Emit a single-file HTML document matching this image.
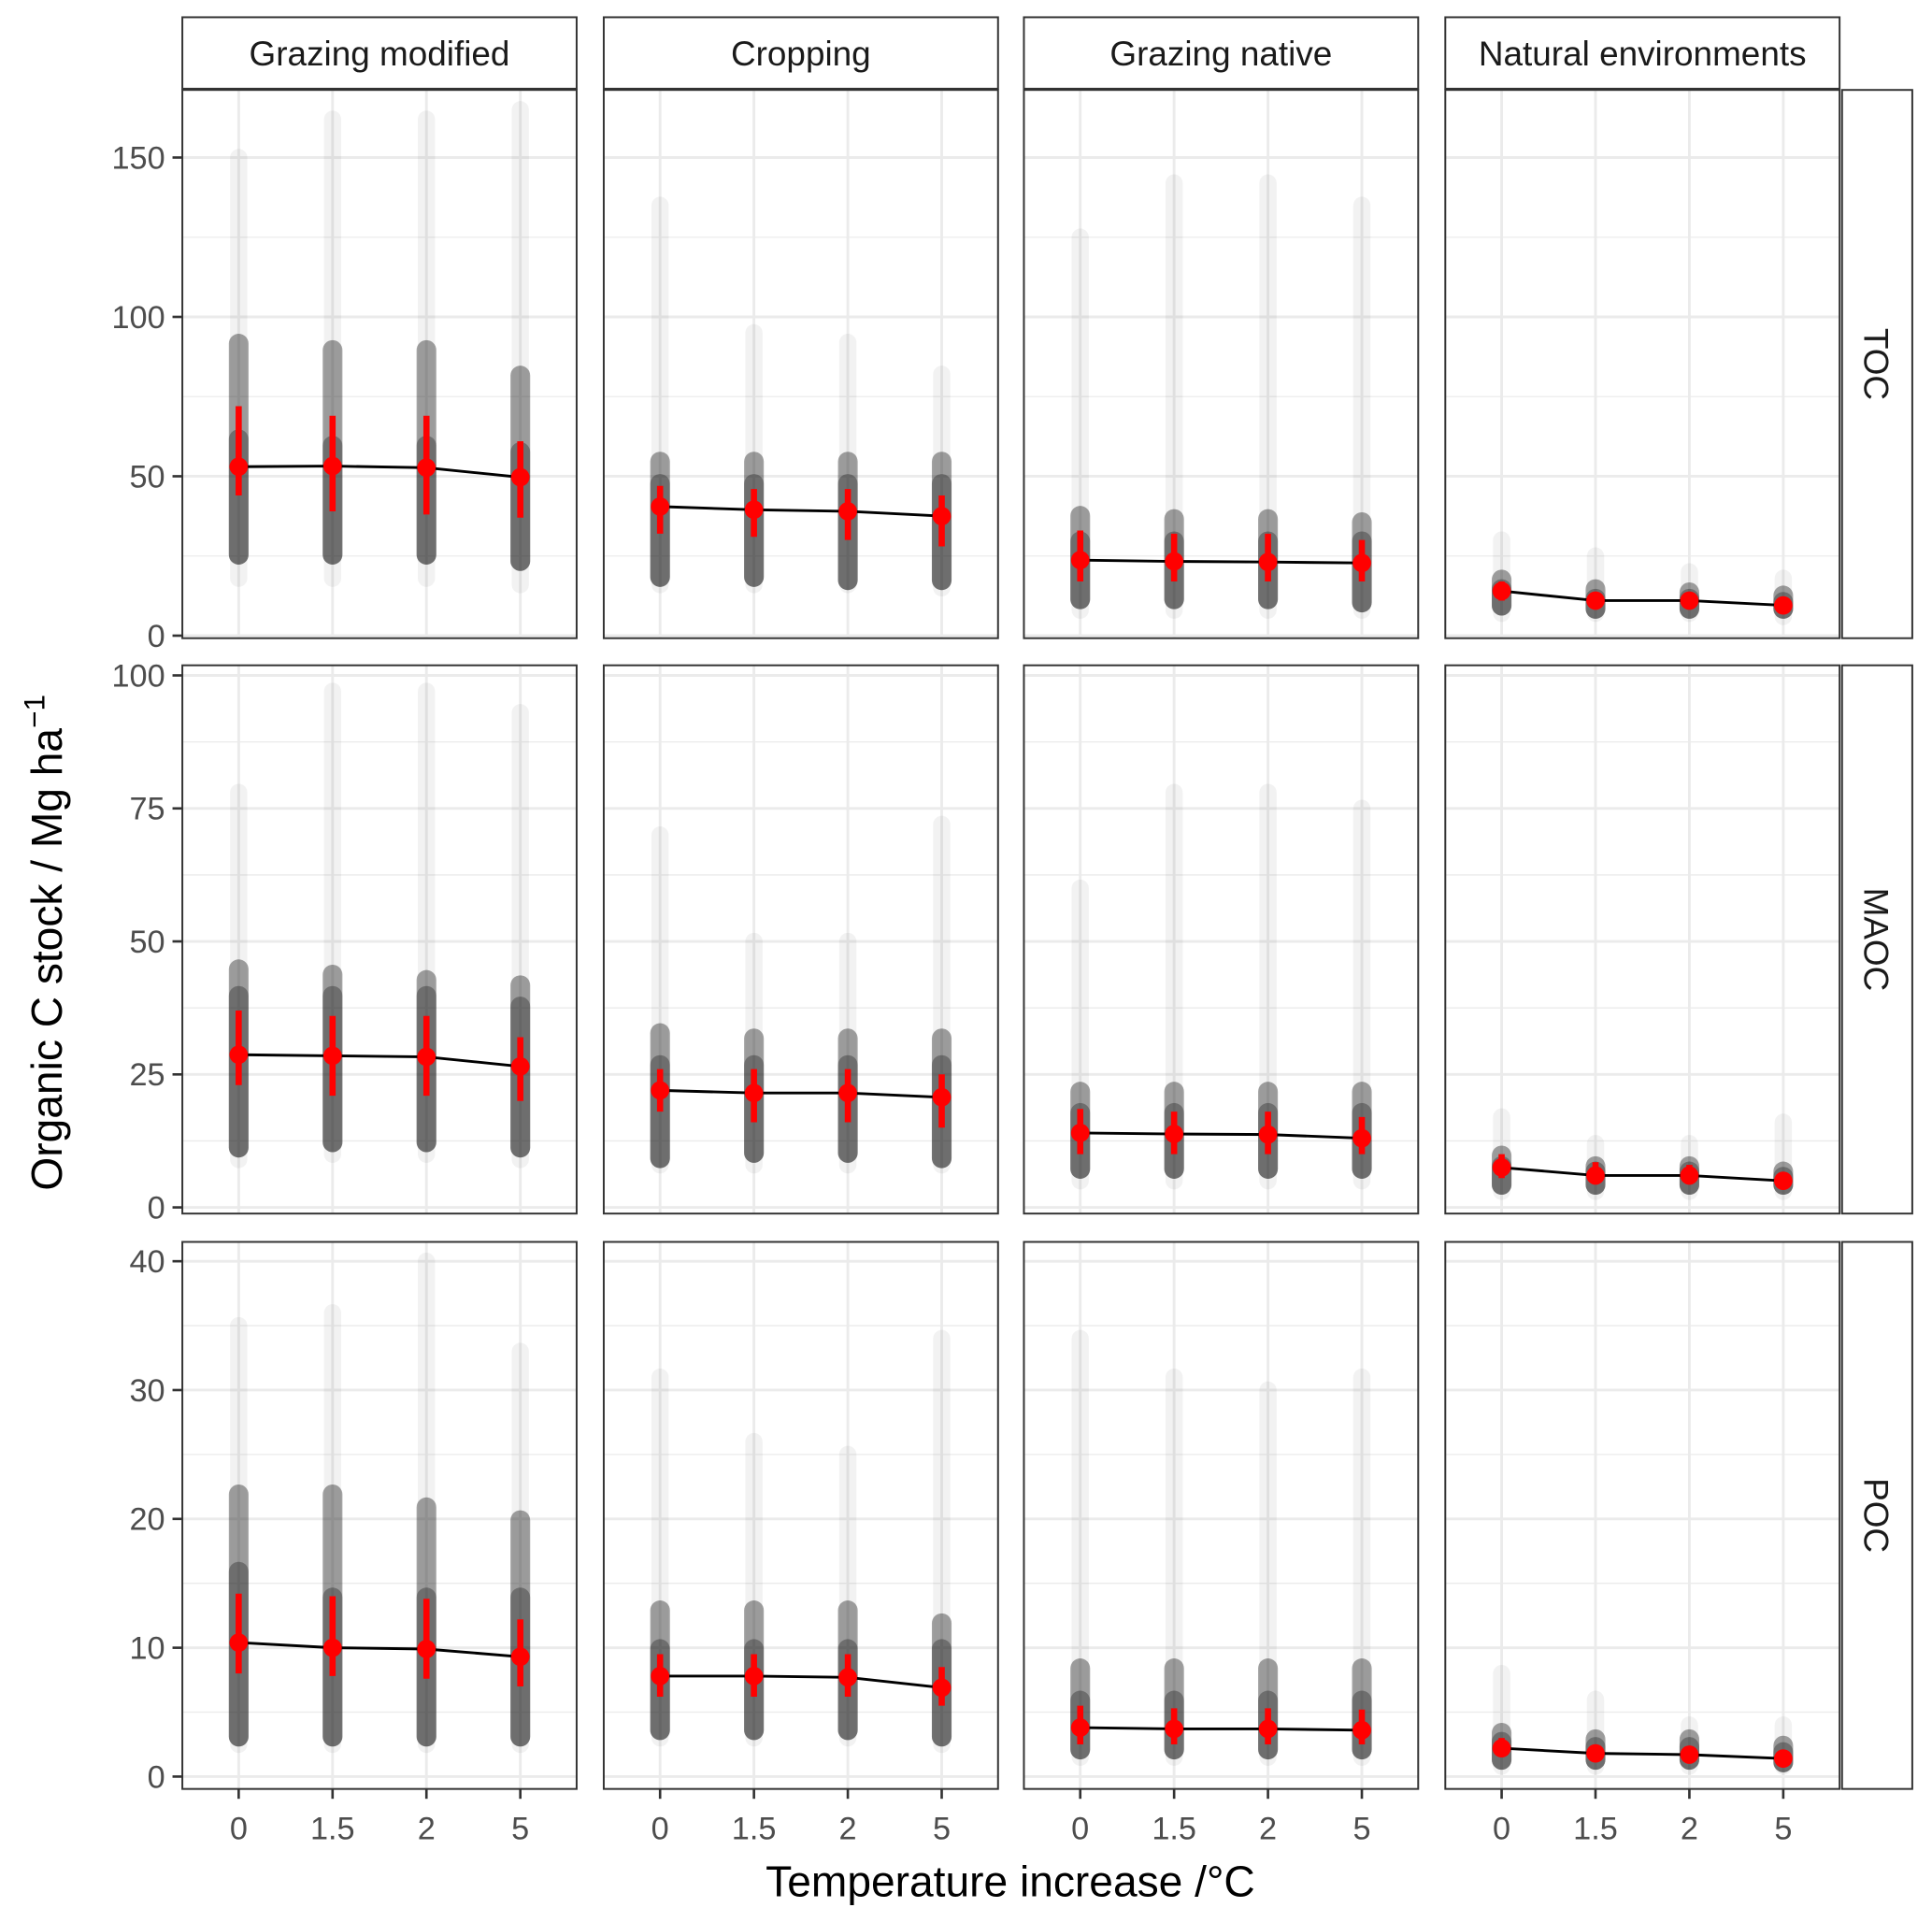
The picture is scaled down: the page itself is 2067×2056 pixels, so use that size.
<!DOCTYPE html>
<html><head><meta charset="utf-8">
<style>
html,body{margin:0;padding:0;background:#fff;}
svg{display:block;font-family:"Liberation Sans",Arial,sans-serif;}
</style></head>
<body>
<svg id="chart" width="2067" height="2056" viewBox="0 0 1568 1560" preserveAspectRatio="none" xmlns="http://www.w3.org/2000/svg"></svg>
<script>
const columns = ["Grazing modified","Cropping","Grazing native","Natural environments"];
const rowsLab = ["TOC","MAOC","POC"];
const categories = ["0","1.5","2","5"];
const yTicks = [[0,50,100,150],[0,25,50,75,100],[0,10,20,30,40]];
const yMinor = [[25,75,125],[12.5,37.5,62.5,87.5],[5,15,25,35]];
const yDomain = [[-0.8,171.2],[-1.16,101.9],[-0.96,41.5]];
const means = [
 [[53,53.2,52.7,49.7],[40.5,39.5,39,37.5],[23.7,23.3,23.1,22.8],[14,11,11,9.5]],
 [[28.7,28.5,28.3,26.5],[22,21.5,21.5,20.7],[14,13.8,13.7,13],[7.5,6,6,5]],
 [[10.4,10,9.9,9.3],[7.8,7.8,7.7,6.9],[3.8,3.7,3.7,3.6],[2.2,1.8,1.7,1.4]]
];
const errLo = [
 [[44,39,38,37],[32,31,30,28],[17,17,17,17],[11,9,9,8.5]],
 [[23,21,21,20],[18,16,16,15],[10,10,10,10],[5.5,4.5,4.5,4.2]],
 [[8,7.8,7.6,7],[6.2,6.2,6.2,5.5],[2.5,2.5,2.5,2.5],[1.6,1.4,1.4,1.2]]
];
const errHi = [
 [[72,69,69,61],[47,46,46,44],[33,32,32,30],[17,13,13,11]],
 [[37,36,36,32],[26,26,26,25],[18.5,18,18,17],[10,8.5,8,6]],
 [[14.2,14,13.8,12.2],[9.5,9.5,9.5,8.5],[5.5,5.3,5.3,5.2],[3,2.3,2.2,1.7]]
];
const coreLo = [
 [[25,25,25,23],[18,18,17,17],[11,11,11,10],[9,8,8,8]],
 [[11,12,12,11],[9,10,10,9],[7,7,7,7],[4,4,4,4]],
 [[3,3,3,3],[3.5,3.5,3.5,3],[2,2,2,2],[1.2,1.2,1.2,1]]
];
const coreHi = [
 [[92,90,90,82],[55,55,55,55],[38,37,37,36],[18,15,14,13]],
 [[45,44,43,42],[33,32,32,32],[22,22,22,22],[10,8,8,7]],
 [[22,22,21,20],[13,13,13,12],[8.5,8.5,8.5,8.5],[3.5,3,3,2.5]]
];
const midHi = [
 [[62,60,60,58],[48,48,48,48],[30,30,30,30],[15,12,12,11]],
 [[40,40,40,38],[27,27,27,27],[18,18,18,18],[8,7,7,6]],
 [[16,14,14,14],[10,10,10,10],[6,6,6,6],[2.8,2.4,2.4,2]]
];
const tailLo = [
 [[18,18,18,16],[16,16,16,15],[8,8,8,8],[7,7,7,6]],
 [[9,10,10,9],[8,8,8,8],[5,5,5,5],[3,3,3,3]],
 [[2.5,2.5,2.5,2.5],[3,3,3,2.5],[1.5,1.5,1.5,1.5],[0.8,0.8,0.8,0.8]]
];
const tailHi = [
 [[150,162,162,165],[135,95,92,82],[125,142,142,135],[30,25,20,18]],
 [[78,97,97,93],[70,50,50,72],[60,78,78,75],[17,12,12,16]],
 [[35,36,40,33],[31,26,25,34],[34,31,30,31],[8,6,4,4]]
];
const colX = [148,490,831,1173], colW = 320;
const rowY = [[73,518],[540,985],[1008,1452]];
const NS="http://www.w3.org/2000/svg", svg=document.getElementById('chart');
function el(t,a,p){const e=document.createElementNS(NS,t);for(const k in a)e.setAttribute(k,a[k]);(p||svg).appendChild(e);return e;}
function xs(c,i){const step=colW/4.2;return colX[c]+step*(0.6+i);}
function ys(r,v){const [t,b]=rowY[r],[lo,hi]=yDomain[r];return b-(v-lo)/(hi-lo)*(b-t);}
function band(p,x,r,lo,hi,w,col,op){
  return el('rect',{x:x-w/2,y:ys(r,hi)-7,width:w,height:ys(r,lo)-ys(r,hi)+14,rx:w/2,fill:col,'fill-opacity':op},p);
}
for(let c=0;c<4;c++){
  const s=el('rect',{x:colX[c],y:14,width:colW,height:58,fill:'#fff',stroke:'#333','stroke-width':1.5});
  
  
  const t=el('text',{x:colX[c]+colW/2,y:53,'text-anchor':'middle','font-size':28,fill:'#1a1a1a'});
  t.textContent=columns[c];
  
  
}
for(let r=0;r<3;r++){
  const [t,b]=rowY[r];
  const rs=el('rect',{x:1495,y:t,width:57,height:b-t,fill:'#fff',stroke:'#333','stroke-width':1.5});
  
  
  const rt=el('text',{x:0,y:0,'text-anchor':'middle','font-size':28,fill:'#1a1a1a',transform:`translate(1513,${(t+b)/2}) rotate(90)`});
  rt.textContent=rowsLab[r];
  
  
  yTicks[r].forEach(v=>{
    const y=ys(r,v);
    el('line',{x1:140,x2:148,y1:y,y2:y,stroke:'#333','stroke-width':2});
    const tl=el('text',{x:134,y:y+9,'text-anchor':'end','font-size':26,fill:'#4d4d4d'});
    tl.textContent=v;
    
    
  });
  for(let c=0;c<4;c++){
    const g=el('g',{});
    
    
    const cp=el('clipPath',{id:`cp${r}${c}`},g);
    el('rect',{x:colX[c],y:t,width:colW,height:b-t},cp);
    const inner=el('g',{'clip-path':`url(#cp${r}${c})`},g);
    yMinor[r].forEach(v=>{const y=ys(r,v);el('line',{x1:colX[c],x2:colX[c]+colW,y1:y,y2:y,stroke:'#ebebeb','stroke-width':1},inner);});
    yTicks[r].forEach(v=>{const y=ys(r,v);el('line',{x1:colX[c],x2:colX[c]+colW,y1:y,y2:y,stroke:'#ebebeb','stroke-width':2.2},inner);});
    for(let i=0;i<4;i++){const x=xs(c,i);el('line',{x1:x,x2:x,y1:t,y2:b,stroke:'#ebebeb','stroke-width':2.2},inner);}
    for(let i=0;i<4;i++){
      const x=xs(c,i);
      const tail=band(inner,x,r,tailLo[r][c][i],tailHi[r][c][i],14,'#000',0.05);
      
      
      const core=band(inner,x,r,coreLo[r][c][i],coreHi[r][c][i],16,'#1a1a1a',0.4);
      
      
      const mid=band(inner,x,r,coreLo[r][c][i],midHi[r][c][i],16,'#1a1a1a',0.35);
      
      
    }
    let d='';
    for(let i=0;i<4;i++){d+=(i?'L':'M')+xs(c,i)+' '+ys(r,means[r][c][i]);}
    const ln=el('path',{d:d,fill:'none',stroke:'#000','stroke-width':2.2},inner);
    
    
    for(let i=0;i<4;i++){
      const x=xs(c,i);
      const eb=el('line',{x1:x,x2:x,y1:ys(r,errLo[r][c][i]),y2:ys(r,errHi[r][c][i]),stroke:'#ff0000','stroke-width':5},inner);
      
      
      const pt=el('circle',{cx:x,cy:ys(r,means[r][c][i]),r:7.5,fill:'#ff0000'},inner);
      
      
    }
    el('rect',{x:colX[c],y:t,width:colW,height:b-t,fill:'none',stroke:'#333','stroke-width':1.5},g);
  }
}
for(let c=0;c<4;c++){
  for(let i=0;i<4;i++){
    const x=xs(c,i);
    el('line',{x1:x,x2:x,y1:1452,y2:1460,stroke:'#333','stroke-width':2});
    const tl=el('text',{x:x,y:1493,'text-anchor':'middle','font-size':26,fill:'#4d4d4d'});
    tl.textContent=categories[i];
    
    
  }
}
const xt=el('text',{x:820,y:1539,'text-anchor':'middle','font-size':35,fill:'#000'});
xt.textContent='Temperature increase /°C';


const yt=el('text',{x:0,y:0,'text-anchor':'middle','font-size':35,fill:'#000',transform:'translate(50,765) rotate(-90)'});
yt.innerHTML='Organic C stock / Mg ha<tspan dy="-14" font-size="24">−1</tspan>';


</script>
</body></html>
